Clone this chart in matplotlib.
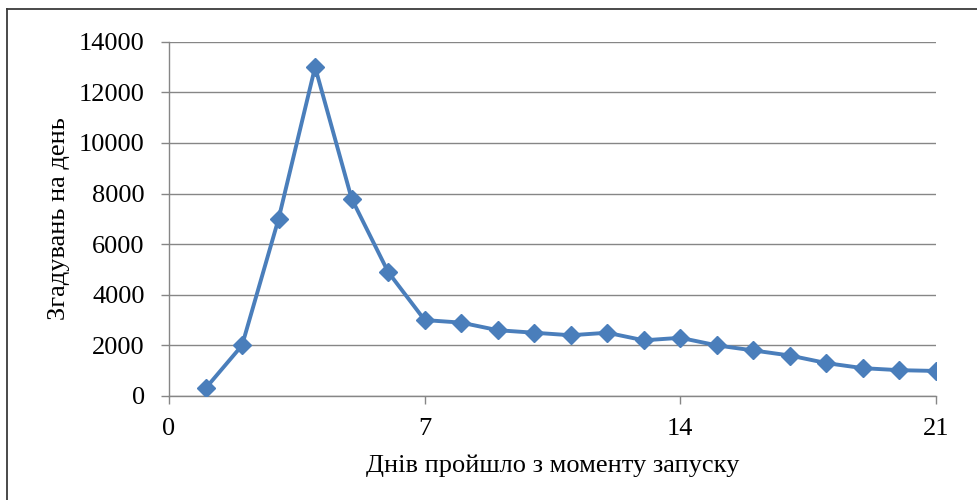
import matplotlib
matplotlib.use("Agg")
import matplotlib.pyplot as plt
from matplotlib.lines import Line2D

days = list(range(1, 22))
mentions = [300, 2000, 7000, 13000, 7800, 4900, 3000, 2900, 2600, 2500,
            2400, 2500, 2200, 2300, 2000, 1800, 1600, 1300, 1100, 1020, 990]
x_ticks = [0, 7, 14, 21]
y_ticks = [0, 2000, 4000, 6000, 8000, 10000, 12000, 14000]
x_label = "Днів пройшло з моменту запуску"
y_label = "Згадувань на день"

plt.rcParams['font.family'] = ['Liberation Serif', 'DejaVu Serif']

W, H = 978, 500
fig = plt.figure(figsize=(W / 100, H / 100), dpi=100)
ax = fig.add_axes([169 / W, 1 - 396 / H, (936 - 169) / W, (396 - 41.7) / H])

grid_c = "#868686"
ax.plot(days, mentions, color="#4A7EBB", lw=2.8, marker="D", ms=9.5,
        markerfacecolor="#4A7EBB", markeredgecolor="#4A7EBB", zorder=3,
        solid_joinstyle="round")

ax.set_xlim(0, 21)
ax.set_ylim(0, 14000)
ax.set_xticks(x_ticks)
ax.set_yticks(y_ticks)
ax.set_xticklabels([str(t) for t in x_ticks])
ax.set_yticklabels([str(t) for t in y_ticks])
ax.yaxis.grid(True, color=grid_c, lw=1.0)
ax.set_axisbelow(True)
for s in ["top", "right"]:
    ax.spines[s].set_visible(False)
for s in ["left", "bottom"]:
    ax.spines[s].set_color(grid_c)
    ax.spines[s].set_linewidth(1.0)
ax.tick_params(axis="both", colors=grid_c, labelcolor="black", labelsize=19,
               length=5.5, width=1.0)
ax.tick_params(axis="y", pad=12)
ax.tick_params(axis="x", pad=10)

ax.set_xlabel(x_label, fontsize=19, labelpad=11)
ax.set_ylabel(y_label, fontsize=19, labelpad=6)

# outer frame
fig.add_artist(Line2D([7.5 / W, 7.5 / W], [-0.1, 1 - 9 / H], transform=fig.transFigure,
                      color="#3a3a3a", lw=1.3))
fig.add_artist(Line2D([7.5 / W, 1.1], [1 - 9 / H, 1 - 9 / H], transform=fig.transFigure,
                      color="#3a3a3a", lw=1.3))

fig.savefig("out.png", dpi=100)
